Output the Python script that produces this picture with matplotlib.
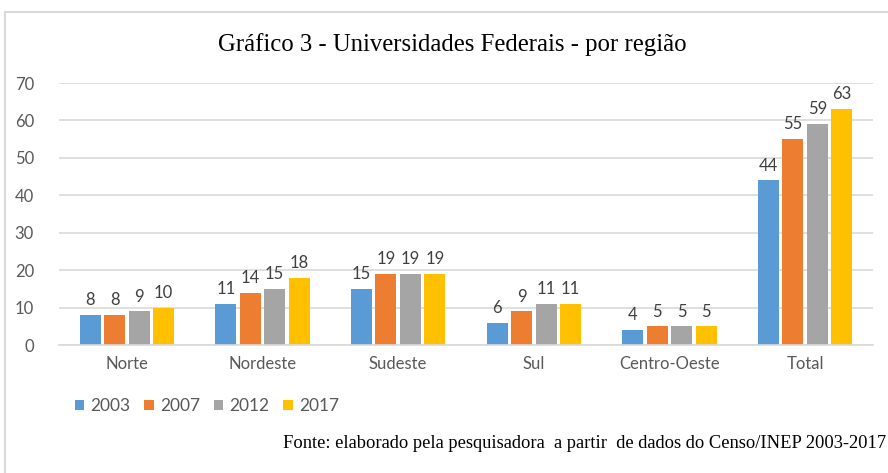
import matplotlib.pyplot as plt
from matplotlib.patches import Rectangle
import numpy as np

regioes = ["Norte", "Nordeste", "Sudeste", "Sul", "Centro-Oeste", "Total"]
anos = ["2003", "2007", "2012", "2017"]
v2003 = [8, 11, 15, 6, 4, 44]
v2007 = [8, 14, 19, 9, 5, 55]
v2012 = [9, 15, 19, 11, 5, 59]
v2017 = [10, 18, 19, 11, 5, 63]
cores = ["#5B9BD5", "#ED7D31", "#A5A5A5", "#FFC000"]

W, H = 888, 473
fig = plt.figure(figsize=(W / 100, H / 100), dpi=100)

# chart frame (light gray border, right/bottom run off the picture)
fig.patches.append(Rectangle((5 / W, -0.05), 1.1, 1 - 12 / H + 0.05,
                             transform=fig.transFigure, fill=False,
                             edgecolor="#D9D9D9", linewidth=1.5))

ax = fig.add_axes([59 / W, 1 - 345 / H, (873 - 59) / W, (345 - 83) / H])

x = np.arange(len(regioes))
stride = 0.18
largura = 0.155
for i, (serie, cor, ano) in enumerate(zip([v2003, v2007, v2012, v2017], cores, anos)):
    pos = x + (i - 1.5) * stride
    barras = ax.bar(pos, serie, width=largura, color=cor, label=ano)
    for b, v in zip(barras, serie):
        ax.text(b.get_x() + b.get_width() / 2, v + 1.8, str(v),
                ha="center", va="bottom", fontsize=12, color="#404040",
                family="Lato")

ax.set_xlim(-0.5, len(regioes) - 0.5)
ax.set_ylim(0, 70)
ax.set_yticks(range(0, 71, 10))
ax.yaxis.grid(True, color="#D9D9D9", linewidth=1.2)
ax.set_axisbelow(True)
for s in ["top", "right", "left"]:
    ax.spines[s].set_visible(False)
ax.spines["bottom"].set_color("#D9D9D9")
ax.spines["bottom"].set_linewidth(1.2)
ax.tick_params(length=0, labelsize=12, labelcolor="#595959", pad=8)
ax.tick_params(axis="y", pad=18)
ax.set_xticks(x)
ax.set_xticklabels(regioes)
for lbl in ax.get_xticklabels() + ax.get_yticklabels():
    lbl.set_family("Lato")

fig.text(452 / W, 1 - 45 / H, "Gráfico 3 - Universidades Federais - por região",
         ha="center", va="center", fontsize=17.8, family="Liberation Serif")

leg = fig.legend(loc="center left", bbox_to_anchor=(59 / W, 1 - 406 / H),
                 ncol=4, frameon=False, handlelength=0.55,
                 handleheight=0.55, handletextpad=0.35, columnspacing=0.8,
                 prop={"family": "Lato", "size": 12.5})
for t in leg.get_texts():
    t.set_color("#595959")

fig.text(886 / W, 1 - 443 / H,
         "Fonte: elaborado pela pesquisadora  a partir  de dados do Censo/INEP 2003-2017",
         ha="right", va="center", fontsize=13.3, family="Liberation Serif")

fig.savefig("out.png", dpi=100)
